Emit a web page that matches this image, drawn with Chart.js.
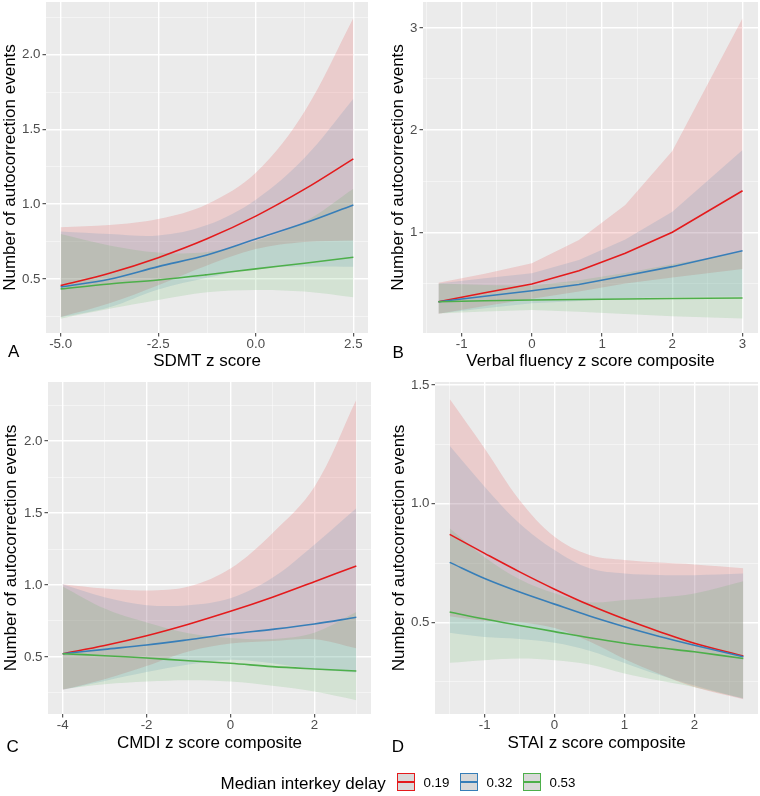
<!DOCTYPE html>
<html><head><meta charset="utf-8">
<script src="https://cdn.jsdelivr.net/npm/chart.js@4.4.1/dist/chart.umd.min.js"></script>
<style>
html,body{margin:0;padding:0;background:#fff;}
#wrap{position:relative;width:760px;height:796px;overflow:hidden;font-family:"Liberation Sans",Arial,sans-serif;}
canvas{position:absolute;}
.lab{position:absolute;font-size:17px;line-height:17px;color:#000;white-space:nowrap;}
.key{position:absolute;top:773px;width:18px;height:18px;box-sizing:border-box;background:#D9D9D9;border:1px solid;}
.key i{position:absolute;left:0;right:0;top:7px;height:1.6px;}
.kt{position:absolute;top:776px;font-size:13.3px;line-height:13.3px;color:#000;white-space:nowrap;}
</style></head>
<body>
<div id="wrap">
<canvas id="cA" width="380" height="372" style="left:0;top:0;width:380px;height:372px"></canvas>
<canvas id="cB" width="380" height="372" style="left:380px;top:0;width:380px;height:372px"></canvas>
<canvas id="cC" width="380" height="382" style="left:0;top:372px;width:380px;height:382px"></canvas>
<canvas id="cD" width="380" height="382" style="left:380px;top:372px;width:380px;height:382px"></canvas>
<div class="lab" style="left:8px;top:343px">A</div>
<div class="lab" style="left:392.5px;top:343.5px">B</div>
<div class="lab" style="left:6.5px;top:738px">C</div>
<div class="lab" style="left:391.7px;top:738px">D</div>
<div id="legend"></div>
</div>
<script>
// ---------- data ----------
const GROUPS = ['0.19', '0.32', '0.53'];
const LEGEND_TITLE = 'Median interkey delay';

// Panel A: SDMT z score
const A_X = [-5, -3.75, -2.5, -1.25, 0, 1.25, 2.5];
const A_RED = [0.455, 0.538, 0.642, 0.768, 0.92, 1.10, 1.303];
const A_RED_HI = [0.846, 0.86, 0.90, 1.0, 1.21, 1.62, 2.245];
const A_RED_LO = [0.245, 0.337, 0.458, 0.59, 0.70, 0.747, 0.757];
const A_BLUE = [0.446, 0.498, 0.582, 0.66, 0.766, 0.873, 0.995];
const A_BLUE_HI = [0.817, 0.80, 0.79, 0.86, 1.03, 1.31, 1.705];
const A_BLUE_LO = [0.243, 0.31, 0.429, 0.507, 0.57, 0.582, 0.581];
const A_GREEN = [0.433, 0.466, 0.493, 0.528, 0.567, 0.605, 0.645];
const A_GREEN_HI = [0.80, 0.724, 0.677, 0.68, 0.755, 0.882, 1.103];
const A_GREEN_LO = [0.234, 0.30, 0.359, 0.41, 0.426, 0.415, 0.377];

// Panel B: Verbal fluency z score composite
const B_X = [-1.33, -0.67, 0, 0.67, 1.33, 2, 3];
const B_RED = [0.321, 0.408, 0.494, 0.624, 0.795, 1.0, 1.407];
const B_RED_HI = [0.507, 0.595, 0.697, 0.925, 1.267, 1.795, 3.094];
const B_RED_LO = [0.203, 0.28, 0.35, 0.421, 0.499, 0.557, 0.64];
const B_BLUE = [0.321, 0.375, 0.429, 0.49, 0.575, 0.664, 0.82];
const B_BLUE_HI = [0.50, 0.55, 0.60, 0.73, 0.93, 1.20, 1.805];
const B_BLUE_LO = [0.206, 0.256, 0.307, 0.329, 0.356, 0.367, 0.373];
const B_GREEN = [0.321, 0.33, 0.338, 0.343, 0.347, 0.352, 0.357];
const B_GREEN_HI = [0.50, 0.484, 0.476, 0.53, 0.602, 0.688, 0.807];
const B_GREEN_LO = [0.206, 0.225, 0.24, 0.222, 0.20, 0.18, 0.158];

// Panel C: CMDI z score composite
const C_X = [-4, -3, -2, -1, 0, 1, 2, 3];
const C_RED = [0.523, 0.58, 0.648, 0.728, 0.817, 0.915, 1.023, 1.132];
const C_RED_HI = [1.005, 0.975, 0.962, 0.99, 1.115, 1.36, 1.68, 2.286];
const C_RED_LO = [0.272, 0.345, 0.437, 0.538, 0.593, 0.611, 0.623, 0.561];
const C_BLUE = [0.523, 0.553, 0.583, 0.62, 0.66, 0.692, 0.729, 0.776];
const C_BLUE_HI = [1.005, 0.915, 0.86, 0.86, 0.908, 1.05, 1.28, 1.533];
const C_BLUE_LO = [0.272, 0.334, 0.395, 0.447, 0.48, 0.456, 0.415, 0.393];
const C_GREEN = [0.523, 0.509, 0.493, 0.474, 0.456, 0.433, 0.417, 0.403];
const C_GREEN_HI = [0.99, 0.836, 0.739, 0.665, 0.632, 0.625, 0.669, 0.812];
const C_GREEN_LO = [0.276, 0.31, 0.329, 0.338, 0.329, 0.30, 0.26, 0.20];

// Panel D: STAI z score composite
const D_X = [-1.5, -1, -0.5, 0, 0.5, 1, 1.5, 2, 2.7];
const D_RED = [0.871, 0.791, 0.713, 0.640, 0.573, 0.514, 0.461, 0.412, 0.358];
const D_RED_HI = [1.441, 1.233, 1.015, 0.861, 0.784, 0.763, 0.752, 0.744, 0.728];
const D_RED_LO = [0.526, 0.507, 0.501, 0.476, 0.419, 0.346, 0.283, 0.228, 0.176];
const D_BLUE = [0.753, 0.685, 0.628, 0.577, 0.527, 0.482, 0.441, 0.404, 0.355];
const D_BLUE_HI = [1.244, 1.072, 0.917, 0.805, 0.728, 0.706, 0.70, 0.699, 0.706];
const D_BLUE_LO = [0.456, 0.438, 0.43, 0.414, 0.381, 0.329, 0.278, 0.234, 0.178];
const D_GREEN = [0.544, 0.514, 0.487, 0.461, 0.435, 0.412, 0.393, 0.376, 0.348];
const D_GREEN_HI = [0.897, 0.775, 0.682, 0.623, 0.585, 0.594, 0.605, 0.622, 0.673];
const D_GREEN_LO = [0.33, 0.341, 0.348, 0.341, 0.323, 0.285, 0.255, 0.227, 0.18];

// axis ticks
const A_XTICKS = [-5, -2.5, 0, 2.5], A_XLABELS = ['-5.0', '-2.5', '0.0', '2.5'], A_XMINOR = [-3.75, -1.25, 1.25];
const A_YTICKS = [0.5, 1, 1.5, 2], A_YLABELS = ['0.5', '1.0', '1.5', '2.0'], A_YMINOR = [0.25, 0.75, 1.25, 1.75, 2.25];
const B_XTICKS = [-1, 0, 1, 2, 3], B_XLABELS = ['-1', '0', '1', '2', '3'], B_XMINOR = [-1.5, -0.5, 0.5, 1.5, 2.5];
const B_YTICKS = [1, 2, 3], B_YLABELS = ['1', '2', '3'], B_YMINOR = [0.5, 1.5, 2.5];
const C_XTICKS = [-4, -2, 0, 2], C_XLABELS = ['-4', '-2', '0', '2'], C_XMINOR = [-3, -1, 1, 3];
const C_YTICKS = [0.5, 1, 1.5, 2], C_YLABELS = ['0.5', '1.0', '1.5', '2.0'], C_YMINOR = [0.25, 0.75, 1.25, 1.75, 2.25];
const D_XTICKS = [-1, 0, 1, 2], D_XLABELS = ['-1', '0', '1', '2'], D_XMINOR = [-1.5, -0.5, 0.5, 1.5, 2.5];
const D_YTICKS = [0.5, 1, 1.5], D_YLABELS = ['0.5', '1.0', '1.5'], D_YMINOR = [0.25, 0.75, 1.25];

const Y_TITLE = 'Number of autocorrection events';

// ---------- styling ----------
const FONT = "'Liberation Sans', Arial, sans-serif";
const LINE_COLORS = ['#E41A1C', '#377EB8', '#4DAF4A'];
const FILL_COLORS = ['rgba(228,26,28,0.15)', 'rgba(55,126,184,0.15)', 'rgba(77,175,74,0.15)'];

function pts(X, Y) { return X.map((x, i) => ({x: x, y: Y[i]})); }
function near(v, arr) { return arr.some(a => Math.abs(a - v) < 1e-9); }

function axis(o) {
  const all = o.major.concat(o.minor).sort((a, b) => a - b);
  const hor = o.horizontal;
  return {
    type: 'linear', min: o.min, max: o.max,
    afterBuildTicks: s => { s.ticks = all.map(v => ({value: v})); },
    afterFit: s => {
      if (hor) { s.height = o.fixed; s.paddingLeft = 0; s.paddingRight = 0; }
      else { s.width = o.fixed; s.paddingTop = 0; s.paddingBottom = 0; }
    },
    ticks: {
      autoSkip: false, maxRotation: 0, minRotation: 0, padding: hor ? 0 : 2,
      color: '#4D4D4D', font: {family: FONT, size: 13.3},
      callback: v => { const i = o.major.findIndex(a => Math.abs(a - v) < 1e-9); return i >= 0 ? o.labels[i] : ''; }
    },
    grid: {
      drawTicks: true, tickLength: 3.5, tickWidth: 1,
      color: c => (c.tick && near(c.tick.value, o.major)) ? '#FFFFFF' : 'rgba(255,255,255,0.6)',
      lineWidth: c => (c.tick && near(c.tick.value, o.major)) ? 1.4 : 0.8,
      tickColor: c => (c.tick && near(c.tick.value, o.major)) ? '#333333' : 'rgba(0,0,0,0)'
    },
    border: {display: false},
    title: {
      display: true, text: o.title, color: '#000',
      font: {family: FONT, size: 17, lineHeight: 1.2},
      padding: hor ? {top: 0, bottom: 0} : {top: o.titlePad, bottom: 0}
    }
  };
}

const panelBg = {
  id: 'panelBg',
  beforeDraw(chart) {
    const a = chart.chartArea, ctx = chart.ctx;
    ctx.save(); ctx.fillStyle = '#EBEBEB';
    ctx.fillRect(a.left, a.top, a.right - a.left, a.bottom - a.top);
    ctx.restore();
  }
};

function makePanel(id, p) {
  const smooth = {tension: p.tension};
  const series = p.series; // red, blue, green
  const ds = [];
  [2, 1, 0].forEach(g => ds.push(Object.assign({
    data: pts(p.x, series[g].mean), borderColor: LINE_COLORS[g], borderWidth: 1.6,
    fill: false, pointRadius: 0
  }, smooth)));
  [2, 1, 0].forEach(g => {
    ds.push(Object.assign({data: pts(p.x, series[g].hi), borderWidth: 0, borderColor: 'rgba(0,0,0,0)',
      backgroundColor: FILL_COLORS[g], fill: '+1', pointRadius: 0}, smooth));
    ds.push(Object.assign({data: pts(p.x, series[g].lo), borderWidth: 0, borderColor: 'rgba(0,0,0,0)',
      fill: false, pointRadius: 0}, smooth));
  });
  new Chart(document.getElementById(id), {
    type: 'line',
    data: {datasets: ds},
    options: {
      responsive: false, animation: false, devicePixelRatio: 1, events: [],
      layout: {padding: p.pad},
      plugins: {legend: {display: false}, tooltip: {enabled: false}},
      scales: {
        x: axis(Object.assign({horizontal: true}, p.xax)),
        y: axis(Object.assign({horizontal: false}, p.yax))
      }
    },
    plugins: [panelBg]
  });
}

makePanel('cA', {
  x: A_X, tension: 0.35,
  series: [{mean: A_RED, hi: A_RED_HI, lo: A_RED_LO}, {mean: A_BLUE, hi: A_BLUE_HI, lo: A_BLUE_LO}, {mean: A_GREEN, hi: A_GREEN_HI, lo: A_GREEN_LO}],
  pad: {top: 2, right: 12, bottom: 0, left: 0},
  xax: {min: -5.375, max: 2.875, major: A_XTICKS, labels: A_XLABELS, minor: A_XMINOR, title: 'SDMT z score', fixed: 39},
  yax: {min: 0.138, max: 2.352, major: A_YTICKS, labels: A_YLABELS, minor: A_YMINOR, title: Y_TITLE, fixed: 46, titlePad: 0}
});
makePanel('cB', {
  x: B_X, tension: 0,
  series: [{mean: B_RED, hi: B_RED_HI, lo: B_RED_LO}, {mean: B_BLUE, hi: B_BLUE_HI, lo: B_BLUE_LO}, {mean: B_GREEN, hi: B_GREEN_HI, lo: B_GREEN_LO}],
  pad: {top: 2, right: 2, bottom: 0, left: 0},
  xax: {min: -1.55, max: 3.22, major: B_XTICKS, labels: B_XLABELS, minor: B_XMINOR, title: 'Verbal fluency z score composite', fixed: 39},
  yax: {min: 0.015, max: 3.253, major: B_YTICKS, labels: B_YLABELS, minor: B_YMINOR, title: Y_TITLE, fixed: 43, titlePad: 7.8}
});
makePanel('cC', {
  x: C_X, tension: 0.35,
  series: [{mean: C_RED, hi: C_RED_HI, lo: C_RED_LO}, {mean: C_BLUE, hi: C_BLUE_HI, lo: C_BLUE_LO}, {mean: C_GREEN, hi: C_GREEN_HI, lo: C_GREEN_LO}],
  pad: {top: 10, right: 9, bottom: 0, left: 0},
  xax: {min: -4.35, max: 3.35, major: C_XTICKS, labels: C_XLABELS, minor: C_XMINOR, title: 'CMDI z score composite', fixed: 40},
  yax: {min: 0.104, max: 2.41, major: C_YTICKS, labels: C_YLABELS, minor: C_YMINOR, title: Y_TITLE, fixed: 48, titlePad: 1}
});
makePanel('cD', {
  x: D_X, tension: 0.35,
  series: [{mean: D_RED, hi: D_RED_HI, lo: D_RED_LO}, {mean: D_BLUE, hi: D_BLUE_HI, lo: D_BLUE_LO}, {mean: D_GREEN, hi: D_GREEN_HI, lo: D_GREEN_LO}],
  pad: {top: 10, right: 2, bottom: 0, left: 0},
  xax: {min: -1.71, max: 2.91, major: D_XTICKS, labels: D_XLABELS, minor: D_XMINOR, title: 'STAI z score composite', fixed: 40},
  yax: {min: 0.114, max: 1.513, major: D_YTICKS, labels: D_YLABELS, minor: D_YMINOR, title: Y_TITLE, fixed: 55, titlePad: 8.8}
});

// ---------- legend ----------
(function () {
  const lg = document.getElementById('legend');
  let html = '<div class="lab" style="left:220.5px;top:775px">' + LEGEND_TITLE + '</div>';
  const keyLeft = [397, 459.5, 522.5], textLeft = [423.5, 486.5, 549.5];
  GROUPS.forEach((g, i) => {
    html += '<div class="key" style="left:' + keyLeft[i] + 'px;border-color:' + LINE_COLORS[i] + '"><i style="background:' + LINE_COLORS[i] + '"></i></div>';
    html += '<div class="kt" style="left:' + textLeft[i] + 'px">' + g + '</div>';
  });
  lg.innerHTML = html;
})();
</script>
</body></html>
